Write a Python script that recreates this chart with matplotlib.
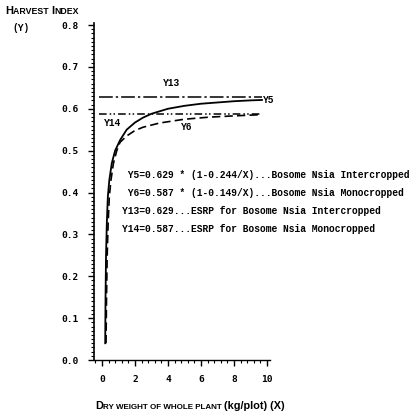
import matplotlib
matplotlib.use("Agg")
import matplotlib.pyplot as plt
from matplotlib.ticker import MultipleLocator

# Y5 curve (solid)
y5_x = [0.20, 0.22, 0.25, 0.30, 0.36, 0.45, 0.60, 0.80, 1.1, 1.5, 2.0, 2.5,
        3.0, 4.0, 5.0, 6.0, 7.0, 8.0, 9.0, 9.7]
y5_y = [0.040, 0.150, 0.250, 0.330, 0.390, 0.430, 0.470, 0.500, 0.525, 0.550,
        0.567, 0.579, 0.588, 0.600, 0.607, 0.612, 0.615, 0.618, 0.620, 0.621]

# Y6 curve (dashed)
y6_x = [0.25, 0.28, 0.32, 0.38, 0.45, 0.55, 0.70, 0.90, 1.1, 1.5, 2.0, 2.5,
        3.5, 5.0, 6.5, 8.0, 9.7]
y6_y = [0.040, 0.150, 0.250, 0.330, 0.390, 0.430, 0.470, 0.500, 0.520, 0.535,
        0.548, 0.556, 0.566, 0.575, 0.580, 0.583, 0.586]

# ESRP horizontal lines
y13_x = [-0.15, 9.7]
y13_y = [0.629, 0.629]
y14_x = [-0.15, 9.7]
y14_y = [0.587, 0.587]

eq_lines = [" Y5=0.629 * (1-0.244/X)...Bosome Nsia Intercropped",
            " Y6=0.587 * (1-0.149/X)...Bosome Nsia Monocropped",
            "Y13=0.629...ESRP for Bosome Nsia Intercropped",
            "Y14=0.587...ESRP for Bosome Nsia Monocropped"]
eq_y = [0.4415, 0.3986, 0.3556, 0.3126]

fig = plt.figure(figsize=(4.19, 4.16), dpi=100)
ax = fig.add_axes([0.2243, 0.1346, 0.4206, 0.8103])

ax.plot(y5_x, y5_y, color="black", lw=1.3, ls="-")
ax.plot(y6_x, y6_y, color="black", lw=1.2, ls=(0, (5, 2.5)))
ax.plot(y13_x, y13_y, color="black", lw=1.1, ls=(0, (9, 2, 1.5, 2)))
ax.plot(y14_x, y14_y, color="black", lw=1.1, ls=(0, (5, 2, 1, 1.5, 1, 2)))

ax.set_xlim(-0.48, 10.2)
ax.set_ylim(0, 0.805)
ax.set_xticks([0, 2, 4, 6, 8, 10])
ax.set_yticks([0.0, 0.1, 0.2, 0.3, 0.4, 0.5, 0.6, 0.7, 0.8])
ax.set_yticklabels(["0.0", "0.1", "0.2", "0.3", "0.4", "0.5", "0.6", "0.7", "0.8"])
ax.xaxis.set_minor_locator(MultipleLocator(0.4))
ax.yaxis.set_minor_locator(MultipleLocator(0.01))
ax.tick_params(which="major", length=4, width=1, pad=7)
ax.tick_params(which="minor", length=2, width=0.8)
for lab in ax.get_xticklabels() + ax.get_yticklabels():
    lab.set_fontfamily("DejaVu Sans Mono")
    lab.set_fontweight("bold")
    lab.set_fontsize(6.8)
for s in ["top", "right"]:
    ax.spines[s].set_visible(False)
ax.spines["left"].set_linewidth(1.2)
ax.spines["bottom"].set_linewidth(1.0)

mono = dict(family="Liberation Mono", fontweight="bold", fontsize=6.9, color="black")
ax.text(4.2, 0.661, "Y13", ha="center", va="center", **mono)
ax.text(0.64, 0.566, "Y14", ha="center", va="center", **mono)
ax.text(5.15, 0.556, "Y6", ha="center", va="center", **mono)
ax.text(9.78, 0.620, "Y5", ha="left", va="center", **mono)

for line, yy in zip(eq_lines, eq_y):
    ax.text(1.21, yy, line, ha="left", va="center", clip_on=False, **mono)

# titles in small caps, built piece by piece
sans = dict(family="Liberation Sans", fontweight="bold", color="black")
t = fig.text(5 / 419, 1 - 14 / 416, "H", fontsize=8, va="baseline", **sans)
t = ax.annotate("ARVEST ", xy=(1, 0), xycoords=t, va="bottom", fontsize=6.3, **sans)
t = ax.annotate("I", xy=(1, 0), xycoords=t, va="bottom", fontsize=8, **sans)
ax.annotate("NDEX", xy=(1, 0), xycoords=t, va="bottom", fontsize=6.3, **sans)
fig.text(12 / 419, 1 - 28 / 416, "(Y)", va="center", **mono)

t = fig.text(95 / 419, 1 - 409 / 416, "D", fontsize=7.8, va="baseline", **sans)
t = ax.annotate("RY WEIGHT OF WHOLE PLANT ", xy=(1, 0), xycoords=t, va="bottom",
                fontsize=5.8, **sans)
ax.annotate("(kg/plot) (X)", xy=(1, 0), xycoords=t, va="bottom", fontsize=7.8, **sans)

fig.savefig("out.png", dpi=100)
